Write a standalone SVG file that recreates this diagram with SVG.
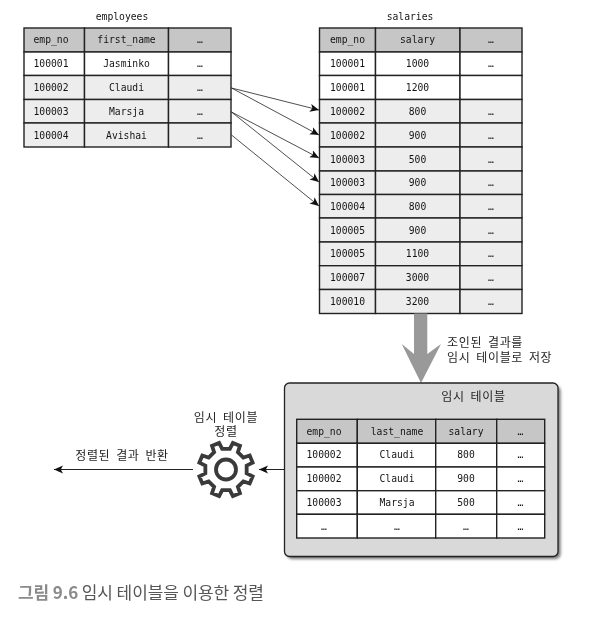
<svg xmlns="http://www.w3.org/2000/svg" width="597" height="624" viewBox="0 0 597 624">
<defs>
<style>
text{font-family:"DejaVu Sans Mono","Liberation Mono",monospace;font-size:9.7px;fill:#111;text-anchor:middle;opacity:.99}
.k{font-family:"Liberation Sans","Noto Sans CJK KR",sans-serif;font-size:12px;letter-spacing:.65px;word-spacing:1.9px;fill:#222}
.c{stroke:#222;stroke-width:1.4;fill:#fff}
.h{fill:#c6c6c6}.g{fill:#ededed}
.l{stroke:#222;stroke-width:.8;fill:none;marker-end:url(#a)}
.l2{stroke:#222;stroke-width:1;fill:none;marker-end:url(#a)}
</style>
<marker id="a" markerUnits="userSpaceOnUse" markerWidth="12" markerHeight="10" refX="9" refY="4" orient="auto"><path d="M0 0L9 4L0 8L2.2 4Z" fill="#111"/></marker>
<filter id="s" x="-5%" y="-5%" width="110%" height="110%"><feGaussianBlur stdDeviation="1.5"/></filter>
</defs>
<g id="employees">
<text x="122" y="20">employees</text>
<rect class="c h" x="24" y="28" width="60.5" height="24"/><rect class="c h" x="84.5" y="28" width="84" height="24"/><rect class="c h" x="168.5" y="28" width="62.5" height="24"/>
<rect class="c" x="24" y="52" width="60.5" height="23.5"/><rect class="c" x="84.5" y="52" width="84" height="23.5"/><rect class="c" x="168.5" y="52" width="62.5" height="23.5"/>
<rect class="c g" x="24" y="75.5" width="60.5" height="24"/><rect class="c g" x="84.5" y="75.5" width="84" height="24"/><rect class="c g" x="168.5" y="75.5" width="62.5" height="24"/>
<rect class="c g" x="24" y="99.5" width="60.5" height="23.5"/><rect class="c g" x="84.5" y="99.5" width="84" height="23.5"/><rect class="c g" x="168.5" y="99.5" width="62.5" height="23.5"/>
<rect class="c g" x="24" y="123" width="60.5" height="24"/><rect class="c g" x="84.5" y="123" width="84" height="24"/><rect class="c g" x="168.5" y="123" width="62.5" height="24"/>
<text x="51" y="43">emp_no</text><text x="126.5" y="43">first_name</text><text x="200" y="43">…</text>
<text x="51" y="67">100001</text><text x="126.5" y="67">Jasminko</text><text x="200" y="67">…</text>
<text x="51" y="91">100002</text><text x="126.5" y="91">Claudi</text><text x="200" y="91">…</text>
<text x="51" y="114.500">100003</text><text x="126.5" y="114.500">Marsja</text><text x="200" y="114.500">…</text>
<text x="51" y="138.500">100004</text><text x="126.5" y="138.500">Avishai</text><text x="200" y="138.500">…</text>
</g>
<g id="salaries">
<text x="410" y="20">salaries</text>
<rect class="c h" x="319.500" y="28" width="56" height="24"/><rect class="c h" x="375.500" y="28" width="84.500" height="24"/><rect class="c h" x="460" y="28" width="62" height="24"/>
<rect class="c" x="319.500" y="52" width="56" height="23.500"/><rect class="c" x="375.500" y="52" width="84.500" height="23.500"/><rect class="c" x="460" y="52" width="62" height="23.500"/>
<rect class="c" x="319.500" y="75.500" width="56" height="24"/><rect class="c" x="375.500" y="75.500" width="84.500" height="24"/><rect class="c" x="460" y="75.500" width="62" height="24"/>
<rect class="c g" x="319.500" y="99.500" width="56" height="23.500"/><rect class="c g" x="375.500" y="99.500" width="84.500" height="23.500"/><rect class="c g" x="460" y="99.500" width="62" height="23.500"/>
<rect class="c g" x="319.500" y="123" width="56" height="24"/><rect class="c g" x="375.500" y="123" width="84.500" height="24"/><rect class="c g" x="460" y="123" width="62" height="24"/>
<rect class="c g" x="319.500" y="147" width="56" height="24"/><rect class="c g" x="375.500" y="147" width="84.500" height="24"/><rect class="c g" x="460" y="147" width="62" height="24"/>
<rect class="c g" x="319.500" y="171" width="56" height="23.500"/><rect class="c g" x="375.500" y="171" width="84.500" height="23.500"/><rect class="c g" x="460" y="171" width="62" height="23.500"/>
<rect class="c g" x="319.500" y="194.500" width="56" height="23.500"/><rect class="c g" x="375.500" y="194.500" width="84.500" height="23.500"/><rect class="c g" x="460" y="194.500" width="62" height="23.500"/>
<rect class="c g" x="319.500" y="218" width="56" height="24"/><rect class="c g" x="375.500" y="218" width="84.500" height="24"/><rect class="c g" x="460" y="218" width="62" height="24"/>
<rect class="c g" x="319.500" y="242" width="56" height="23.700"/><rect class="c g" x="375.500" y="242" width="84.500" height="23.700"/><rect class="c g" x="460" y="242" width="62" height="23.700"/>
<rect class="c g" x="319.500" y="265.700" width="56" height="23.800"/><rect class="c g" x="375.500" y="265.700" width="84.500" height="23.800"/><rect class="c g" x="460" y="265.700" width="62" height="23.800"/>
<rect class="c g" x="319.500" y="289.500" width="56" height="24"/><rect class="c g" x="375.500" y="289.500" width="84.500" height="24"/><rect class="c g" x="460" y="289.500" width="62" height="24"/>
<text x="347.500" y="43">emp_no</text><text x="417.500" y="43">salary</text><text x="491" y="43">…</text>
<text x="347.500" y="67">100001</text><text x="417.500" y="67">1000</text><text x="491" y="67">…</text>
<text x="347.500" y="91">100001</text><text x="417.500" y="91">1200</text>
<text x="347.500" y="114.500">100002</text><text x="417.500" y="114.500">800</text><text x="491" y="114.500">…</text>
<text x="347.500" y="138.500">100002</text><text x="417.500" y="138.500">900</text><text x="491" y="138.500">…</text>
<text x="347.500" y="162.500">100003</text><text x="417.500" y="162.500">500</text><text x="491" y="162.500">…</text>
<text x="347.500" y="186">100003</text><text x="417.500" y="186">900</text><text x="491" y="186">…</text>
<text x="347.500" y="209.500">100004</text><text x="417.500" y="209.500">800</text><text x="491" y="209.500">…</text>
<text x="347.500" y="233.500">100005</text><text x="417.500" y="233.500">900</text><text x="491" y="233.500">…</text>
<text x="347.500" y="257">100005</text><text x="417.500" y="257">1100</text><text x="491" y="257">…</text>
<text x="347.500" y="281">100007</text><text x="417.500" y="281">3000</text><text x="491" y="281">…</text>
<text x="347.500" y="304.500">100010</text><text x="417.500" y="304.500">3200</text><text x="491" y="304.500">…</text>
</g>
<g id="connectors">
<line class="l" x1="231.500" y1="88" x2="319" y2="110"/>
<line class="l" x1="231.500" y1="88" x2="319" y2="135"/>
<line class="l" x1="231.500" y1="112" x2="319" y2="158"/>
<line class="l" x1="231.500" y1="112" x2="319" y2="182"/>
<line class="l" x1="231.500" y1="135" x2="319" y2="206"/>
<path id="join-arrow" d="M414 313.500H427.300V354L441 344L421 383L401.700 344L414 354Z" fill="#999"/>
<line class="l2" x1="284" y1="469.500" x2="259" y2="469.500"/>
<line class="l2" x1="193" y1="469.500" x2="54" y2="469.500"/>
</g>
<text class="k" id="join-label" style="text-anchor:start"><tspan x="447" y="347">조인된 결과를</tspan><tspan x="447" y="361.500">임시 테이블로 저장</tspan></text>
<g id="temp-table">
<rect x="287" y="386" width="273.500" height="173" rx="5" fill="#777" filter="url(#s)"/>
<rect x="284.500" y="383" width="273.500" height="173.500" rx="5" fill="#d9d9d9" stroke="#222" stroke-width="1.300"/>
<text class="k" x="473.500" y="401">임시 테이블</text>
<rect class="c h" x="296.700" y="419.300" width="60.600" height="24"/><rect class="c h" x="357.300" y="419.300" width="78.400" height="24"/><rect class="c h" x="435.700" y="419.300" width="61" height="24"/><rect class="c h" x="496.700" y="419.300" width="48" height="24"/>
<rect class="c" x="296.700" y="443.300" width="60.600" height="23.700"/><rect class="c" x="357.300" y="443.300" width="78.400" height="23.700"/><rect class="c" x="435.700" y="443.300" width="61" height="23.700"/><rect class="c" x="496.700" y="443.300" width="48" height="23.700"/>
<rect class="c" x="296.700" y="467" width="60.600" height="23.700"/><rect class="c" x="357.300" y="467" width="78.400" height="23.700"/><rect class="c" x="435.700" y="467" width="61" height="23.700"/><rect class="c" x="496.700" y="467" width="48" height="23.700"/>
<rect class="c" x="296.700" y="490.700" width="60.600" height="23.600"/><rect class="c" x="357.300" y="490.700" width="78.400" height="23.600"/><rect class="c" x="435.700" y="490.700" width="61" height="23.600"/><rect class="c" x="496.700" y="490.700" width="48" height="23.600"/>
<rect class="c" x="296.700" y="514.300" width="60.600" height="23.700"/><rect class="c" x="357.300" y="514.300" width="78.400" height="23.700"/><rect class="c" x="435.700" y="514.300" width="61" height="23.700"/><rect class="c" x="496.700" y="514.300" width="48" height="23.700"/>
<text x="324" y="434.500">emp_no</text><text x="397" y="434.500">last_name</text><text x="466" y="434.500">salary</text><text x="520.500" y="434.500">…</text>
<text x="324" y="458">100002</text><text x="397" y="458">Claudi</text><text x="466" y="458">800</text><text x="520.500" y="458">…</text>
<text x="324" y="482">100002</text><text x="397" y="482">Claudi</text><text x="466" y="482">900</text><text x="520.500" y="482">…</text>
<text x="324" y="506">100003</text><text x="397" y="506">Marsja</text><text x="466" y="506">500</text><text x="520.500" y="506">…</text>
<text x="324" y="529.500">…</text><text x="397" y="529.500">…</text><text x="466" y="529.500">…</text><text x="520.500" y="529.500">…</text>
</g>
<g id="sort-gear">
<text class="k"><tspan x="226" y="422">임시 테이블</tspan><tspan x="226" y="436">정렬</tspan></text>
<g transform="translate(226 469.500)" fill="none" stroke="#3a3a3a" stroke-width="3.800" stroke-linejoin="miter">
<path d="M20.65 3.83L26.62 6.89L23.69 13.96L17.31 11.89L11.89 17.31L13.96 23.69L6.89 26.62L3.83 20.65L-3.83 20.65L-6.89 26.62L-13.96 23.69L-11.89 17.31L-17.31 11.89L-23.69 13.96L-26.62 6.89L-20.65 3.83L-20.65 -3.83L-26.62 -6.89L-23.69 -13.96L-17.31 -11.89L-11.89 -17.31L-13.96 -23.69L-6.89 -26.62L-3.83 -20.65L3.83 -20.65L6.89 -26.62L13.96 -23.69L11.89 -17.31L17.31 -11.89L23.69 -13.96L26.62 -6.89L20.65 -3.83Z"/>
<circle r="10"/>
</g>
</g>
<text class="k" id="result-label" x="122" y="460">정렬된 결과 반환</text>
<text id="caption" x="18" y="599" style="text-anchor:start;font-family:'Noto Sans CJK KR','Noto Sans',sans-serif;font-size:17px;letter-spacing:-.1px;fill:#555"><tspan fill="#8a8a8a" font-weight="700">그림 9.6</tspan> 임시 테이블을 이용한 정렬</text>
</svg>
